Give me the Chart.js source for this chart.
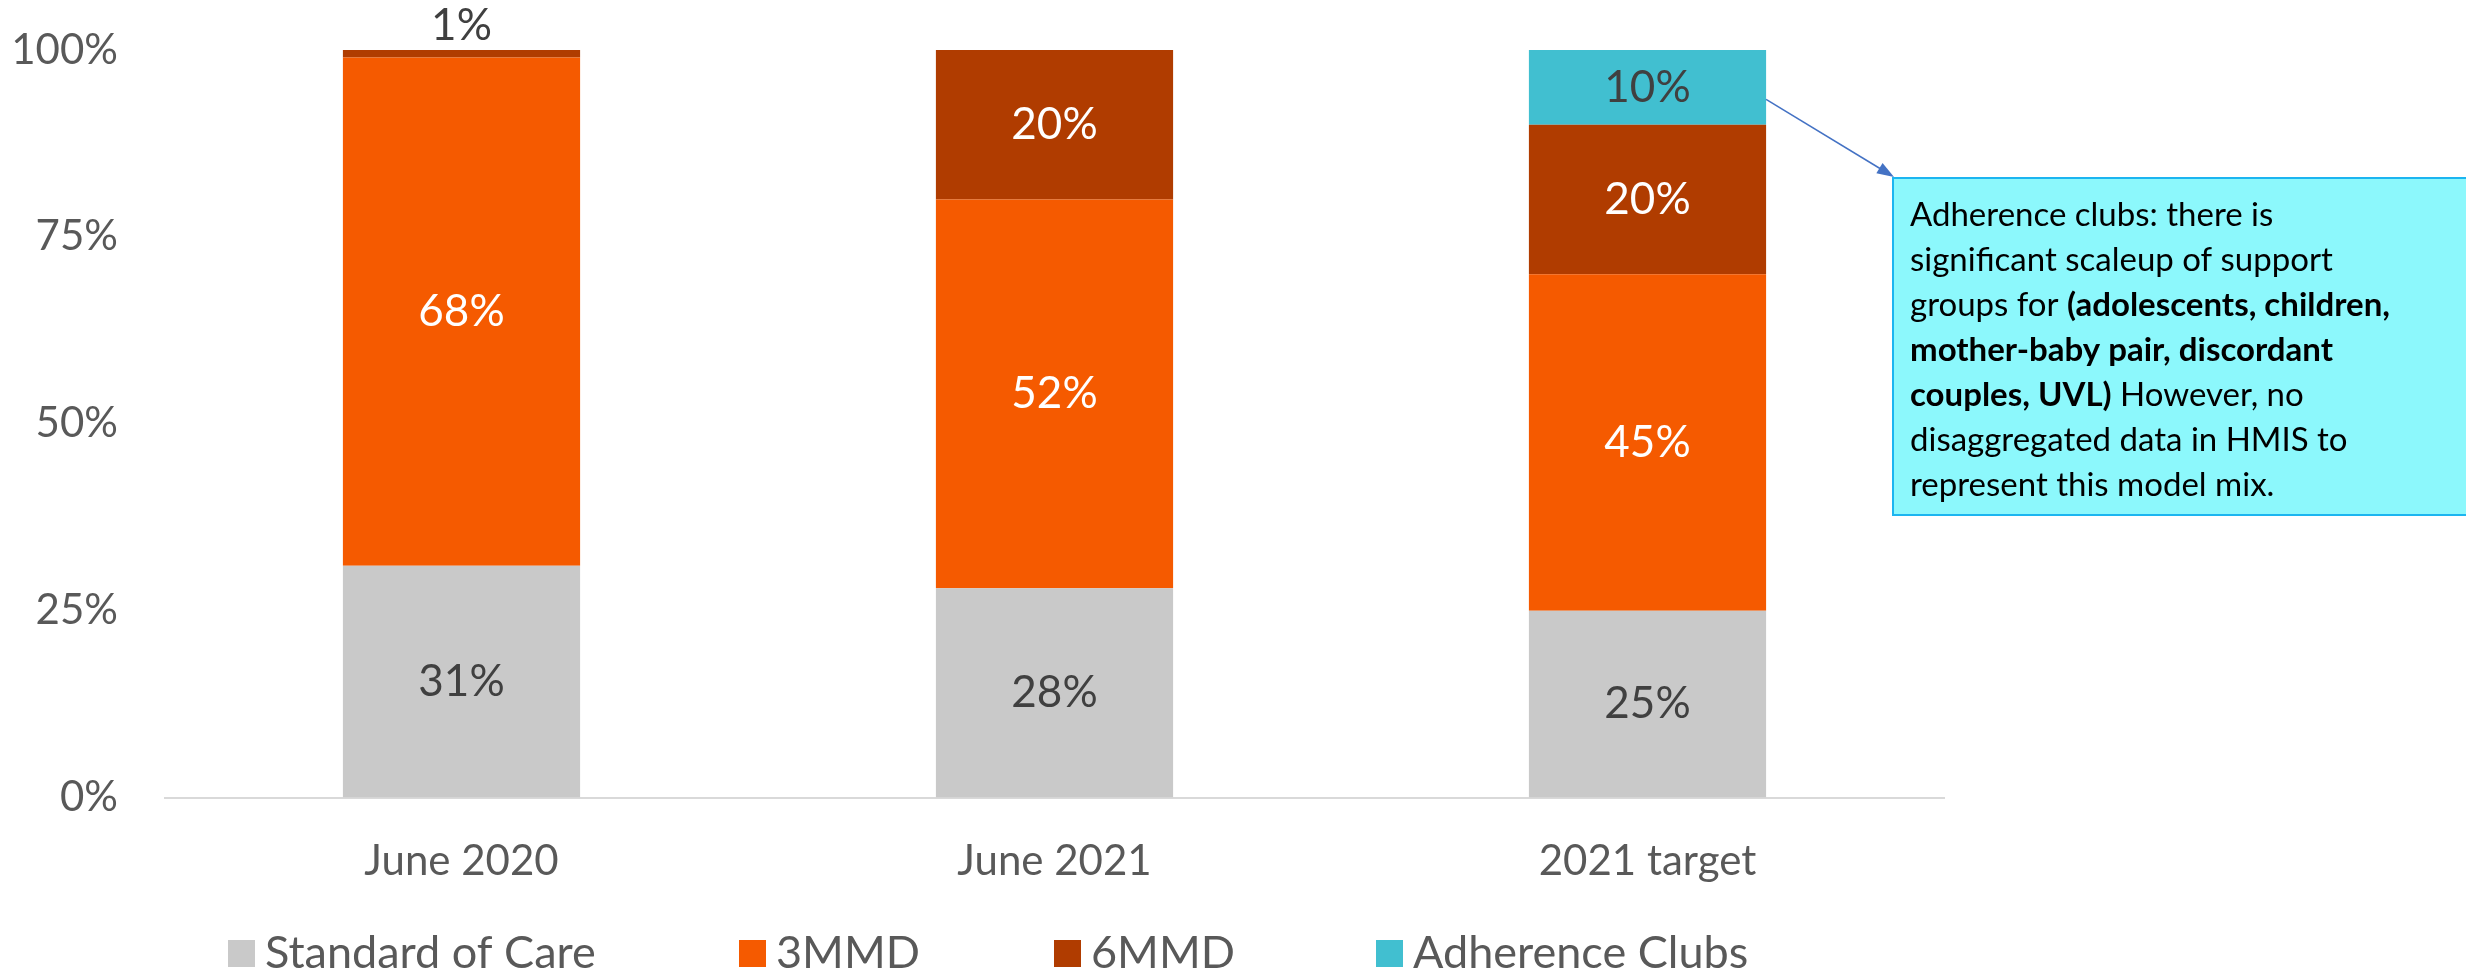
<!DOCTYPE html>
<html>
<head>
<meta charset="utf-8">
<script src="https://cdn.jsdelivr.net/npm/chart.js@4.4.0/dist/chart.umd.min.js"></script>
<style>
  html, body { margin: 0; padding: 0; background: #fff; }
  #wrap { width: 2466px; height: 971px; }
</style>
</head>
<body>
<div id="wrap"><canvas id="chart"></canvas></div>
<script>
const categories = ["June 2020", "June 2021", "2021 target"];
const standardOfCare = [31, 28, 25];
const mmd3 = [68, 52, 45];
const mmd6 = [1, 20, 20];
const adherenceClubs = [0, 0, 10];
const seriesNames = ["Standard of Care", "3MMD", "6MMD", "Adherence Clubs"];
const seriesColors = ["#C9C9C9", "#F55A00", "#B03C00", "#41BFD0"];
const labelColors = ["#404040", "#FFFFFF", "#FFFFFF", "#404040"];

// callout text, each line is a list of [text, bold]
const noteLines = [
  [["Adherence clubs: there is", false]],
  [["significant scaleup of support", false]],
  [["groups for ", false], ["(adolescents, children,", true]],
  [["mother-baby pair, discordant", true]],
  [["couples, UVL)", true], [" However, no", false]],
  [["disaggregated data in HMIS to", false]],
  [["represent this model mix.", false]],
];

const FONT = "Lato";
const GREY = "#595959";
const legendX = [228, 739, 1054, 1376]; // left edge of each legend swatch

// percent labels on the segments
const barLabels = {
  id: "barLabels",
  afterDatasetsDraw(chart) {
    const ctx = chart.ctx;
    ctx.save();
    ctx.font = "44px " + FONT;
    ctx.textAlign = "center";
    ctx.textBaseline = "middle";
    chart.data.datasets.forEach((ds, i) => {
      const meta = chart.getDatasetMeta(i);
      meta.data.forEach((bar, j) => {
        const v = ds.data[j];
        if (!v) return;
        if (v < 5) {
          ctx.fillStyle = "#404040";
          ctx.fillText(v + "%", bar.x, bar.y - 24);
        } else {
          ctx.fillStyle = labelColors[i];
          ctx.fillText(v + "%", bar.x, (bar.y + bar.base) / 2);
        }
      });
    });
    ctx.restore();
  },
};

// legend drawn by hand so the item spacing can match
const bottomLegend = {
  id: "bottomLegend",
  afterDraw(chart) {
    const ctx = chart.ctx;
    ctx.save();
    ctx.font = "45px " + FONT;
    ctx.textBaseline = "middle";
    const y = 953;
    chart.data.datasets.forEach((ds, i) => {
      const x = legendX[i];
      ctx.fillStyle = ds.backgroundColor;
      ctx.fillRect(x, y - 13, 27, 27);
      ctx.fillStyle = GREY;
      ctx.fillText(ds.label, x + 37, y);
    });
    ctx.restore();
  },
};

// callout box with arrow
const callout = {
  id: "callout",
  afterDraw(chart) {
    const ctx = chart.ctx;
    const bar = chart.getDatasetMeta(3).data[2];
    const sx = bar.x + bar.width / 2;
    const sy = bar.y + (bar.base - bar.y) * 0.66;
    const bx = 1893, by = 178, bw = 580, bh = 337;

    ctx.save();
    ctx.fillStyle = "#8CF8FC";
    ctx.fillRect(bx, by, bw, bh);
    ctx.strokeStyle = "#1CB5F0";
    ctx.lineWidth = 2;
    ctx.strokeRect(bx, by, bw, bh);

    // arrow
    const ex = bx + 1, ey = by - 1;
    const ang = Math.atan2(ey - sy, ex - sx);
    ctx.strokeStyle = "#4472C4";
    ctx.fillStyle = "#4472C4";
    ctx.lineWidth = 1.5;
    ctx.beginPath();
    ctx.moveTo(sx, sy);
    ctx.lineTo(ex - 14 * Math.cos(ang), ey - 14 * Math.sin(ang));
    ctx.stroke();
    ctx.beginPath();
    ctx.moveTo(ex, ey);
    ctx.lineTo(ex - 17 * Math.cos(ang) + 6 * Math.sin(ang), ey - 17 * Math.sin(ang) - 6 * Math.cos(ang));
    ctx.lineTo(ex - 17 * Math.cos(ang) - 6 * Math.sin(ang), ey - 17 * Math.sin(ang) + 6 * Math.cos(ang));
    ctx.closePath();
    ctx.fill();

    // text
    ctx.fillStyle = "#000000";
    ctx.textBaseline = "middle";
    noteLines.forEach((line, i) => {
      let x = 1910;
      const y = 215 + i * 45;
      line.forEach(([txt, bold]) => {
        ctx.font = (bold ? "bold " : "") + "33px " + FONT;
        ctx.fillText(txt, x, y);
        x += ctx.measureText(txt).width;
      });
    });
    ctx.restore();
  },
};

const seriesData = [standardOfCare, mmd3, mmd6, adherenceClubs];

new Chart(document.getElementById("chart"), {
  type: "bar",
  data: {
    labels: categories,
    datasets: seriesNames.map((name, i) => ({
      label: name,
      data: seriesData[i],
      backgroundColor: seriesColors[i],
      borderWidth: 0,
      categoryPercentage: 1,
      barPercentage: 0.4,
    })),
  },
  options: {
    responsive: true,
    maintainAspectRatio: false,
    animation: false,
    layout: { padding: { left: 0, right: 522, top: 50, bottom: 45 } },
    plugins: {
      legend: { display: false },
      tooltip: { enabled: false },
    },
    scales: {
      x: {
        stacked: true,
        grid: { display: false, drawTicks: false },
        border: { display: true, color: "#D9D9D9", width: 2 },
        ticks: { color: GREY, font: { family: FONT, size: 42 }, padding: 39 },
      },
      y: {
        stacked: true,
        min: 0,
        max: 100,
        grid: { display: false, drawTicks: false },
        border: { display: false },
        afterFit: (scale) => {
          scale.width = 165;
          scale.paddingTop = 0;
          scale.paddingBottom = 0;
        },
        ticks: {
          stepSize: 25,
          color: GREY,
          padding: 47,
          font: { family: FONT, size: 42 },
          callback: (v) => v + "%",
        },
      },
    },
  },
  plugins: [barLabels, bottomLegend, callout],
});
</script>
</body>
</html>
